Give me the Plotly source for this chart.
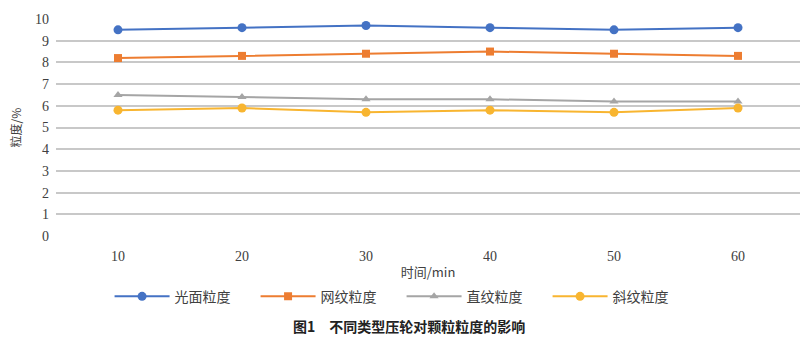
import plotly.graph_objects as go

times = ["10", "20", "30", "40", "50", "60"]
smooth = [9.5, 9.6, 9.7, 9.6, 9.5, 9.6]
mesh = [8.2, 8.3, 8.4, 8.5, 8.4, 8.3]
straight = [6.5, 6.4, 6.3, 6.3, 6.2, 6.2]
oblique = [5.8, 5.9, 5.7, 5.8, 5.7, 5.9]

series = [
    ("光面粒度", smooth, "#4472c4", "circle", 9),
    ("网纹粒度", mesh, "#ed7d31", "square", 8),
    ("直纹粒度", straight, "#a5a5a5", "triangle-up", 8),
    ("斜纹粒度", oblique, "#f8b530", "circle", 9),
]

fig = go.Figure()
for name, vals, color, sym, size in series:
    fig.add_trace(go.Scatter(
        x=times, y=vals, name=name, mode="lines+markers",
        line=dict(color=color, width=2),
        marker=dict(symbol=sym, size=size, color=color),
    ))

fig.update_layout(
    width=812, height=345,
    margin=dict(l=56, r=12, t=15, b=109),
    paper_bgcolor="white", plot_bgcolor="white",
    font=dict(family="Liberation Serif", size=13, color="#404040"),
    xaxis=dict(
        type="category", range=[-0.5, 5.5], showgrid=False, showline=False, zeroline=False,
        ticks="", ticklabelstandoff=10,
        tickfont=dict(family="Liberation Serif", size=14, color="#404040"),
        title=dict(text="时间/min", font=dict(family="Noto Sans CJK SC", size=13, color="#404040"), standoff=4),
    ),
    yaxis=dict(
        range=[0, 10], dtick=1, showgrid=True, gridcolor="#c8c8c8", gridwidth=1.5,
        zeroline=False, showline=False, ticks="", ticklabelstandoff=6,
        tickfont=dict(family="Liberation Serif", size=14, color="#404040"),
        title=dict(text="粒度/%", font=dict(family="Noto Sans CJK SC", size=12, color="#404040"), standoff=10),
    ),
    legend=dict(
        orientation="h", x=0.072, xanchor="left", y=-0.28, yanchor="middle",
        itemwidth=55, entrywidth=76, entrywidthmode="pixels",
        font=dict(family="Noto Sans CJK SC", size=14, color="#404040"),
    ),
    showlegend=True,
)

fig.add_annotation(
    text="<b>图1　不同类型压轮对颗粒粒度的影响</b>",
    xref="paper", yref="paper", x=0.475, y=-0.415, xanchor="center", yanchor="middle",
    showarrow=False, font=dict(family="Noto Sans CJK SC", size=14, color="#222222"),
)

fig.write_html("out.html")
